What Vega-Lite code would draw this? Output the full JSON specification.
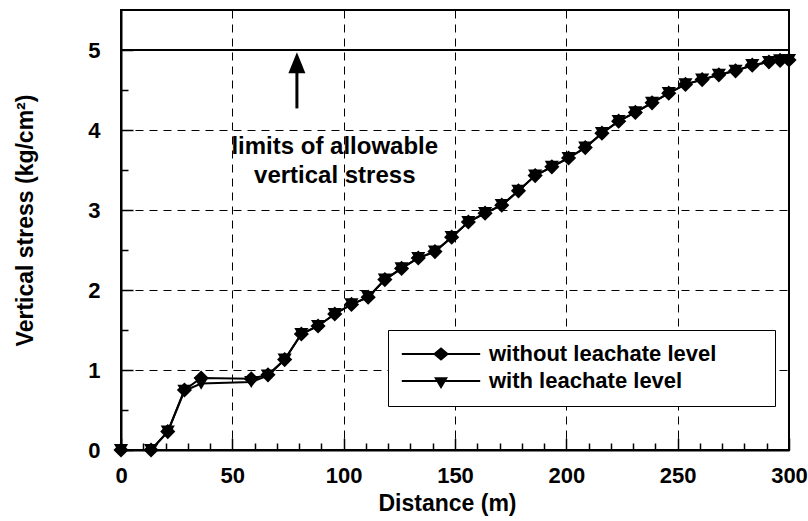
{
  "$schema": "https://vega.github.io/schema/vega-lite/v6.json",
  "width": 668,
  "height": 440,
  "autosize": {"type": "none"},
  "padding": {"left": 121, "top": 10, "right": 19, "bottom": 71},
  "background": "white",
  "config": {
    "font": "Liberation Sans",
    "view": {"stroke": "black", "strokeWidth": 2},
    "axis": {
      "labelFont": "Liberation Sans",
      "labelFontWeight": "bold",
      "labelFontSize": 22,
      "labelColor": "black",
      "titleFont": "Liberation Sans",
      "titleFontWeight": "bold",
      "titleFontSize": 23,
      "titleColor": "black",
      "domainColor": "black",
      "domainWidth": 2,
      "tickColor": "black",
      "tickWidth": 1.5,
      "gridColor": "black",
      "gridOpacity": 1,
      "gridWidth": 1,
      "gridDash": [8, 6],
      "labelFlush": false,
      "labelOverlap": false
    }
  },
  "datasets": {
    "curves": [
      {"d": 0, "s": 0, "series": "without leachate level"},
      {"d": 13.5, "s": 0, "series": "without leachate level"},
      {"d": 21, "s": 0.23, "series": "without leachate level"},
      {"d": 28.5, "s": 0.75, "series": "without leachate level"},
      {"d": 36, "s": 0.9, "series": "without leachate level"},
      {"d": 58.5, "s": 0.89, "series": "without leachate level"},
      {"d": 66, "s": 0.94, "series": "without leachate level"},
      {"d": 73.5, "s": 1.13, "series": "without leachate level"},
      {"d": 81, "s": 1.45, "series": "without leachate level"},
      {"d": 88.5, "s": 1.55, "series": "without leachate level"},
      {"d": 96, "s": 1.7, "series": "without leachate level"},
      {"d": 103.5, "s": 1.82, "series": "without leachate level"},
      {"d": 111, "s": 1.91, "series": "without leachate level"},
      {"d": 118.5, "s": 2.13, "series": "without leachate level"},
      {"d": 126, "s": 2.27, "series": "without leachate level"},
      {"d": 133.5, "s": 2.4, "series": "without leachate level"},
      {"d": 141, "s": 2.48, "series": "without leachate level"},
      {"d": 148.5, "s": 2.66, "series": "without leachate level"},
      {"d": 156, "s": 2.85, "series": "without leachate level"},
      {"d": 163.5, "s": 2.96, "series": "without leachate level"},
      {"d": 171, "s": 3.06, "series": "without leachate level"},
      {"d": 178.5, "s": 3.24, "series": "without leachate level"},
      {"d": 186, "s": 3.43, "series": "without leachate level"},
      {"d": 193.5, "s": 3.54, "series": "without leachate level"},
      {"d": 201, "s": 3.65, "series": "without leachate level"},
      {"d": 208.5, "s": 3.78, "series": "without leachate level"},
      {"d": 216, "s": 3.96, "series": "without leachate level"},
      {"d": 223.5, "s": 4.11, "series": "without leachate level"},
      {"d": 231, "s": 4.22, "series": "without leachate level"},
      {"d": 238.5, "s": 4.34, "series": "without leachate level"},
      {"d": 246, "s": 4.46, "series": "without leachate level"},
      {"d": 253.5, "s": 4.57, "series": "without leachate level"},
      {"d": 261, "s": 4.63, "series": "without leachate level"},
      {"d": 268.5, "s": 4.69, "series": "without leachate level"},
      {"d": 276, "s": 4.74, "series": "without leachate level"},
      {"d": 283.5, "s": 4.81, "series": "without leachate level"},
      {"d": 291, "s": 4.85, "series": "without leachate level"},
      {"d": 296, "s": 4.87, "series": "without leachate level"},
      {"d": 300, "s": 4.875, "series": "without leachate level"},
      {"d": 0, "s": 0, "series": "with leachate level"},
      {"d": 13.5, "s": 0, "series": "with leachate level"},
      {"d": 21, "s": 0.23, "series": "with leachate level"},
      {"d": 28.5, "s": 0.74, "series": "with leachate level"},
      {"d": 36, "s": 0.83, "series": "with leachate level"},
      {"d": 58.5, "s": 0.85, "series": "with leachate level"},
      {"d": 66, "s": 0.93, "series": "with leachate level"},
      {"d": 73.5, "s": 1.13, "series": "with leachate level"},
      {"d": 81, "s": 1.45, "series": "with leachate level"},
      {"d": 88.5, "s": 1.55, "series": "with leachate level"},
      {"d": 96, "s": 1.7, "series": "with leachate level"},
      {"d": 103.5, "s": 1.82, "series": "with leachate level"},
      {"d": 111, "s": 1.91, "series": "with leachate level"},
      {"d": 118.5, "s": 2.13, "series": "with leachate level"},
      {"d": 126, "s": 2.27, "series": "with leachate level"},
      {"d": 133.5, "s": 2.4, "series": "with leachate level"},
      {"d": 141, "s": 2.48, "series": "with leachate level"},
      {"d": 148.5, "s": 2.66, "series": "with leachate level"},
      {"d": 156, "s": 2.85, "series": "with leachate level"},
      {"d": 163.5, "s": 2.96, "series": "with leachate level"},
      {"d": 171, "s": 3.06, "series": "with leachate level"},
      {"d": 178.5, "s": 3.24, "series": "with leachate level"},
      {"d": 186, "s": 3.43, "series": "with leachate level"},
      {"d": 193.5, "s": 3.54, "series": "with leachate level"},
      {"d": 201, "s": 3.65, "series": "with leachate level"},
      {"d": 208.5, "s": 3.78, "series": "with leachate level"},
      {"d": 216, "s": 3.96, "series": "with leachate level"},
      {"d": 223.5, "s": 4.11, "series": "with leachate level"},
      {"d": 231, "s": 4.22, "series": "with leachate level"},
      {"d": 238.5, "s": 4.34, "series": "with leachate level"},
      {"d": 246, "s": 4.46, "series": "with leachate level"},
      {"d": 253.5, "s": 4.57, "series": "with leachate level"},
      {"d": 261, "s": 4.63, "series": "with leachate level"},
      {"d": 268.5, "s": 4.69, "series": "with leachate level"},
      {"d": 276, "s": 4.74, "series": "with leachate level"},
      {"d": 283.5, "s": 4.81, "series": "with leachate level"},
      {"d": 291, "s": 4.85, "series": "with leachate level"},
      {"d": 296, "s": 4.87, "series": "with leachate level"},
      {"d": 300, "s": 4.875, "series": "with leachate level"}
    ],
    "limit": [{"allowable": 5}],
    "arrow": [{"x": 79, "y": 4.27, "y2": 4.78, "yhead": 4.84}],
    "notes": [
      {"x": 96, "y": 3.79, "label": "limits of allowable"},
      {"x": 96, "y": 3.42, "label": "vertical stress"}
    ]
  },
  "layer": [
    {
      "data": {"name": "limit"},
      "mark": {"type": "rule", "color": "black", "strokeWidth": 2},
      "encoding": {"y": {"field": "allowable", "type": "quantitative", "axis": null}}
    },
    {
      "data": {"name": "curves"},
      "mark": {"type": "line", "color": "black", "strokeWidth": 2},
      "encoding": {
        "x": {
          "field": "d", "type": "quantitative",
          "scale": {"domain": [0, 300], "nice": false, "zero": false},
          "axis": {"values": [0, 50, 100, 150, 200, 250, 300], "grid": true, "ticks": false, "labelPadding": 15, "title": "Distance (m)", "titlePadding": 6, "titleX": 326}
        },
        "y": {
          "field": "s", "type": "quantitative",
          "scale": {"domain": [0, 5.5], "nice": false, "zero": false},
          "axis": {"values": [0, 1, 2, 3, 4, 5], "grid": true, "ticks": false, "labelPadding": 21, "title": "Vertical stress (kg/cm²)", "titlePadding": 50, "titleY": 210}
        },
        "detail": {"field": "series"}
      }
    },
    {
      "data": {"name": "curves"},
      "transform": [{"filter": "datum.series === 'without leachate level'"}],
      "mark": {"type": "point", "filled": true, "color": "black", "size": 230, "opacity": 1, "shape": "diamond"},
      "encoding": {
        "x": {
          "field": "d", "type": "quantitative",
          "axis": {"values": [0, 50, 100, 150, 200, 250, 300], "orient": "bottom", "grid": false, "labels": false, "domain": false, "tickSize": -12, "title": null}
        },
        "y": {
          "field": "s", "type": "quantitative",
          "axis": {"values": [0, 1, 2, 3, 4, 5], "orient": "left", "grid": false, "labels": false, "domain": false, "tickSize": -12, "title": null}
        }
      }
    },
    {
      "data": {"name": "curves"},
      "transform": [{"filter": "datum.series === 'with leachate level'"}],
      "mark": {"type": "point", "filled": true, "color": "black", "size": 200, "opacity": 1, "shape": "triangle-down"},
      "encoding": {
        "x": {"field": "d", "type": "quantitative", "axis": null},
        "y": {"field": "s", "type": "quantitative", "axis": null}
      }
    },
    {
      "data": {"name": "curves"},
      "transform": [{"filter": "false"}],
      "mark": {"type": "point", "filled": true, "color": "black", "opacity": 1},
      "encoding": {
        "x": {"field": "d", "type": "quantitative", "axis": null},
        "y": {"field": "s", "type": "quantitative", "axis": null},
        "shape": {
          "field": "series", "type": "nominal",
          "scale": {
            "domain": ["without leachate level", "with leachate level"],
            "range": [
              "M-5.6,-0.15L5.6,-0.15L5.6,0.15L-5.6,0.15ZM0,-0.95L1.15,0L0,0.95L-1.15,0ZM45.3,0",
              "M-5.6,-0.15L5.6,-0.15L5.6,0.15L-5.6,0.15ZM-1,-0.55L1,-0.55L0,1.15ZM45.3,0"
            ]
          },
          "legend": {
            "title": null,
            "orient": "none",
            "legendX": 267,
            "legendY": 320,
            "padding": 13,
            "strokeColor": "black",
            "fillColor": "white",
            "symbolSize": 196,
            "symbolOffset": 29,
            "symbolFillColor": "black",
            "symbolOpacity": 1,
            "labelFont": "Liberation Sans",
            "labelFontWeight": "bold",
            "labelFontSize": 22,
            "labelColor": "black",
            "labelLimit": 0,
            "labelOffset": 37,
            "rowPadding": 5
          }
        }
      }
    },
    {
      "data": {"name": "arrow"},
      "mark": {"type": "rule", "color": "black", "strokeWidth": 3},
      "encoding": {
        "x": {
          "field": "x", "type": "quantitative",
          "axis": {"values": [10, 20, 30, 40, 60, 70, 80, 90, 110, 120, 130, 140, 160, 170, 180, 190, 210, 220, 230, 240, 260, 270, 280, 290], "orient": "bottom", "grid": false, "labels": false, "domain": false, "tickSize": -7, "title": null}
        },
        "y": {
          "field": "y", "type": "quantitative",
          "axis": {"values": [0.5, 1.5, 2.5, 3.5, 4.5], "orient": "left", "grid": false, "labels": false, "domain": false, "tickSize": -7, "title": null}
        },
        "y2": {"field": "y2"}
      }
    },
    {
      "data": {"name": "arrow"},
      "mark": {"type": "point", "filled": true, "color": "black", "opacity": 1, "size": 441, "shape": "M0,-1L0.81,1L-0.81,1Z"},
      "encoding": {
        "x": {"field": "x", "type": "quantitative", "axis": null},
        "y": {"field": "yhead", "type": "quantitative", "axis": null}
      }
    },
    {
      "data": {"name": "notes"},
      "mark": {"type": "text", "font": "Liberation Sans", "fontWeight": "bold", "fontSize": 24, "color": "black", "align": "center", "baseline": "middle"},
      "encoding": {
        "x": {"field": "x", "type": "quantitative", "axis": null},
        "y": {"field": "y", "type": "quantitative", "axis": null},
        "text": {"field": "label"}
      }
    }
  ],
  "resolve": {"axis": {"x": "independent", "y": "independent"}}
}
